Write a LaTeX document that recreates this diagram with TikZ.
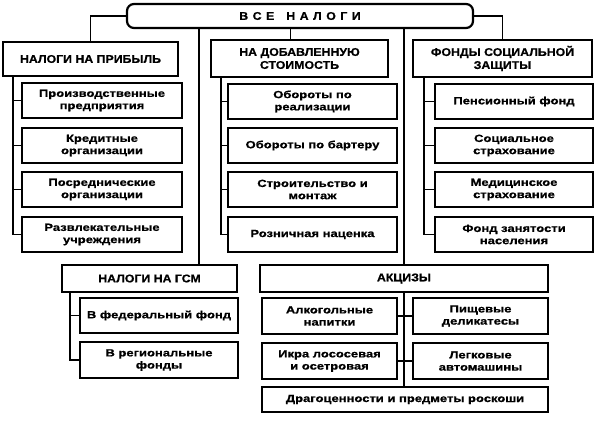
\documentclass[tikz,border=0pt]{standalone}
\usepackage{fontspec}
\newfontfamily\cfont[FakeStretch=1.25,FakeBold=0.8]{Liberation Sans Bold}
\newfontfamily\hfont[FakeStretch=1.1,FakeBold=0.8]{Liberation Sans Bold}
\begin{document}
\begin{tikzpicture}[x=1pt,y=-1pt,
  box/.style={draw, line width=2.2pt, inner sep=1pt, outer sep=0pt, align=center, anchor=north west,
              font=\cfont\fontsize{10.4}{12.2}\selectfont},
  hbox/.style={box, font=\hfont\fontsize{11.2}{13}\selectfont},
  conn/.style={line width=1.9pt}]
\useasboundingbox (0,0) rectangle (599,422);
% top
\node[hbox, rounded corners=7pt, minimum width=346pt, minimum height=24pt] (top) at (127,4)
  {В\hspace{4.5pt}С\hspace{4.5pt}Е\hspace{12pt}Н\hspace{4.5pt}А\hspace{4.5pt}Л\hspace{4.5pt}О\hspace{4.5pt}Г\hspace{4.5pt}И};
% headers
\node[hbox, minimum width=175pt, minimum height=34pt] (lh) at (3,42) {НАЛОГИ НА ПРИБЫЛЬ};
\node[hbox, minimum width=177pt, minimum height=37pt] (mh) at (211,40) {НА ДОБАВЛЕННУЮ\\СТОИМОСТЬ};
\node[hbox, minimum width=179pt, minimum height=37pt] (rh) at (413,40) {ФОНДЫ СОЦИАЛЬНОЙ\\ЗАЩИТЫ};
% left children
\node[box, minimum width=160pt, minimum height=35pt] (l1) at (22,83) {Производственные\\предприятия};
\node[box, minimum width=160pt, minimum height=35pt] (l2) at (22,128) {Кредитные\\организации};
\node[box, minimum width=160pt, minimum height=35pt] (l3) at (22,172) {Посреднические\\организации};
\node[box, minimum width=160pt, minimum height=35pt] (l4) at (22,217) {Развлекательные\\учреждения};
% middle children
\node[box, minimum width=169pt, minimum height=35pt] (m1) at (228,84) {Обороты по\\реализации};
\node[box, minimum width=169pt, minimum height=35pt] (m2) at (228,128) {Обороты по бартеру};
\node[box, minimum width=169pt, minimum height=35pt] (m3) at (228,172) {Строительство и\\монтаж};
\node[box, minimum width=169pt, minimum height=35pt] (m4) at (228,217) {Розничная наценка};
% right children
\node[box, minimum width=158pt, minimum height=35pt] (r1) at (435,84) {Пенсионный фонд};
\node[box, minimum width=158pt, minimum height=35pt] (r2) at (435,128) {Социальное\\страхование};
\node[box, minimum width=158pt, minimum height=35pt] (r3) at (435,172) {Медицинское\\страхование};
\node[box, minimum width=158pt, minimum height=35pt] (r4) at (435,217) {Фонд занятости\\населения};
% bottom
\node[hbox, minimum width=175pt, minimum height=27pt] (gsm) at (62,265) {НАЛОГИ НА ГСМ};
\node[box, minimum width=158pt, minimum height=35pt] (g1) at (80,298) {В федеральный фонд};
\node[box, minimum width=158pt, minimum height=36pt] (g2) at (80,342) {В региональные\\фонды};
\node[hbox, minimum width=288pt, minimum height=27pt] (akz) at (260,265) {АКЦИЗЫ};
\node[box, minimum width=135pt, minimum height=36pt] (a1) at (262,298) {Алкогольные\\напитки};
\node[box, minimum width=135pt, minimum height=36pt] (a2) at (413,298) {Пищевые\\деликатесы};
\node[box, minimum width=135pt, minimum height=36pt] (a3) at (262,343) {Икра лососевая\\и осетровая};
\node[box, minimum width=135pt, minimum height=36pt] (a4) at (413,343) {Легковые\\автомашины};
\node[box, minimum width=286pt, minimum height=25pt] (a5) at (262,387) {Драгоценности и предметы роскоши};
% connectors from top
\draw[conn] (top.west) -| (lh.north);
\draw[conn] (top.east) -| (rh.north);
\coordinate (mtop) at ([xshift=-9pt]mh.north);
\draw[conn] (mtop |- top.south) -- (mtop);
\coordinate (gtop) at ([xshift=137pt]gsm.north west);
\draw[conn] (gtop |- top.south) -- (gtop);
\draw[conn] (akz.north |- top.south) -- (akz.north);
% left spine
\coordinate (ls) at ([xshift=10pt]lh.south west);
\foreach \c in {l1,l2,l3,l4} \draw[conn] (ls) |- (\c.west);
% middle spine
\coordinate (ms) at ([xshift=10pt]mh.south west);
\foreach \c in {m1,m2,m3,m4} \draw[conn] (ms) |- (\c.west);
% right spine
\coordinate (rs) at ([xshift=11pt]rh.south west);
\foreach \c in {r1,r2,r3,r4} \draw[conn] (rs) |- (\c.west);
% gsm spine
\coordinate (gs) at ([xshift=8pt]gsm.south west);
\foreach \c in {g1,g2} \draw[conn] (gs) |- (\c.west);
% akcizy spine
\draw[conn] (akz.south) -- (akz.south |- a5.north);
\draw[conn] (a1.east) -- (a2.west);
\draw[conn] (a3.east) -- (a4.west);
\end{tikzpicture}
\end{document}
